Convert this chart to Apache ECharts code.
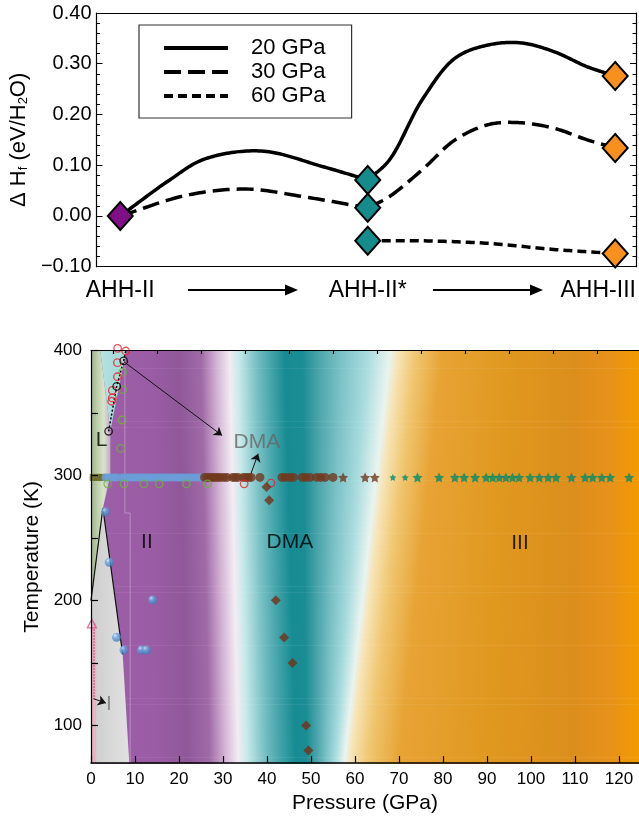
<!DOCTYPE html>
<html><head><meta charset="utf-8">
<script src="https://cdn.jsdelivr.net/npm/echarts@6/dist/echarts.min.js"></script>
<style>html,body{margin:0;padding:0;background:#fff}#c{width:639px;height:819px}</style>
</head><body><div id="c"></div>
<script>
// ---------------- TOP PANEL DATA ----------------
const topStates = ['AHH-II', 'AHH-II*', 'AHH-III'];
const topStatePos = [0, 1, 2];
// each pressure: path AHH-II -> AHH-II* and AHH-II* -> AHH-III
const h20a = [[0,0],[0.2,0.071],[0.34,0.112],[0.57,0.128],[0.82,0.097],[1,0.071]];
const h20b = [[1,0.071],[1.087,0.11],[1.22,0.229],[1.353,0.311],[1.487,0.337],[1.62,0.341],[1.752,0.324],[1.887,0.294],[2,0.276]];
const h30a = [[0,0],[0.27,0.041],[0.51,0.053],[0.74,0.038],[1,0.016]];
const h30b = [[1,0.016],[1.087,0.038],[1.22,0.091],[1.353,0.15],[1.487,0.18],[1.607,0.184],[1.752,0.173],[1.887,0.15],[2,0.134]];
const h60b = [[1,-0.049],[1.22,-0.049],[1.487,-0.054],[1.752,-0.066],[2,-0.074]];
const dAHHII = [[0,0]];
const dAHHIIs = [[1,0.071],[1,0.016],[1,-0.049]];
const dAHHIII = [[2,0.276],[2,0.134],[2,-0.074]];

// ---------------- BOTTOM PANEL DATA ----------------
const pLabelTicks = [0,10,20,30,40,50,60,70,80,90,100,110,120];
const pMinorTicks = [5,15,25,35,45,55,65,75,85,95,105,115];
const tTicks = [100,150,200,250,300,350,400];
const tLabelTicks = [100,200,300,400];
const T_RT = 298.5;                 // row of room-temperature measurements
const olivePs = [0.5,1.2,1.9,2.6];
const bluePs = [3.3,3.9,4.6,5.3,5.9,7.1,7.7,8.3,8.9,9.5,10.1,10.7,11.3,11.9,12.5,13.1,13.7,14.3,14.9,15.5,16.1,16.7,17.3,17.9,18.6,19.3,19.9,20.5,21.2,21.9,22.6,23.3,24.0,24.7,25.3];
const brownPs = [25.8,26.4,27.0,27.6,28.2,28.8,29.4,30.2,30.9,32.2,32.8,33.4,34.6,35.2,35.8,36.4,38.4,43.4,44.2,45.2,46.0,48.0,48.8,49.8,51.3,52.2,53.2,55.0];
const brownStarPs = [57.3,62.3,64.5];
const greenStarPs = [68.6,71.4,74.2,79.1,82.7,84.8,87.3,89.8,91.3,92.8,94.3,95.8,97.3,99.8,101.9,103.9,105.7,109.2,112.3,114.0,116.1,118.0,122.3];
const greenCircles = [[3.8,293.4],[7.5,293.4],[12.0,293.4],[15.5,293.4],[21.7,293.4],[26.5,293.4],[6.75,321.7],[7.05,344.4],[7.2,368.7],[7.2,382.7]];
const redCircles = [[6.05,401.7],[7.9,399.6],[6.0,390.3],[6.0,379.0],[4.85,368.1],[4.85,362.1],[4.7,359.4],[34.8,293.4],[40.9,294.0]];
const blackCircles = [[4.0,335.4],[5.84,371.3],[7.43,391.7]];
const blackDotted = [[4.0,335.4],[5.84,371.3],[7.43,391.7],[7.9,400]];
const blueSpheres = [[3.26,271],[4.16,230.6],[14.0,200.5],[5.8,170.6],[7.5,160.5],[11.5,160.5],[12.6,160.5]];
const brownDiamonds = [[39.9,290.8],[40.5,280.2],[42.0,200.2],[43.9,170.4],[45.8,150.0],[48.9,100.1],[49.4,80.0]];
const pinkTriangle = [[0.2,181.7]];
const pinkDotted = [[0.7,177],[0.7,121]];
const boundaryLeft = [[0,200],[2.7,274]];
const boundaryRight = [[2.7,274],[7.2,157]];
const seamLine = [[7.7,400],[7.7,270],[8.9,270],[8.9,70]];
const arrows = [
  [[7.5,391],[29.8,332]],
  [[36.2,300],[38.0,317.5]],
  [[0.6,121.5],[3.4,118]]
];
const phaseLabels = [
  [2.4,328,'L','#000'],[12.7,247,'II','#000'],[45.2,247,'DMA','#000'],
  [97.5,246,'III','#000'],[37.7,327,'DMA','#666'],[4.1,117.5,'I','#777']
];
// background phase colour field: [pressure at 400 K, pressure at 70 K, colour]
const bgStops = [
  [0,0,'#9c60a8'],[14,15,'#9a5ca4'],[20,22,'#8f5899'],[25,27,'#a06aa7'],
  [28.5,30.5,'#d4b4d6'],[31.5,33.5,'#f3ecf3'],[33.5,35.5,'#c8e9ea'],
  [37.5,39.5,'#78c0c5'],[40.5,42.5,'#4aa7ad'],[44,46.5,'#178b93'],[48,49,'#1a8c94'],
  [52,51.5,'#4ea6ac'],[57,53.5,'#7cc2c7'],[63,55.5,'#aadcdf'],[68,57.5,'#e9f4f0'],[70,59,'#f7e3b5'],
  [74,63,'#f0c670'],[80,70,'#e7a334'],[95,90,'#e0981f'],[110,110,'#dc8e1c'],
  [118,118,'#e7921a'],[124.55,124.55,'#f39a00']
];
const regions = [
  {pts:[[0,400],[2.1,400],[4.4,336],[4.4,300],[2.7,274],[0,200]], colors:['#9cb088','#bfd0ac','#d8e3cc','rgba(235,238,228,0.5)']},
  {pts:[[2.1,400],[8.0,400],[4.4,336]], colors:['#b9e2e0','#a9dbdb','#aedcdc']},
  {pts:[[0,200],[2.7,274],[7.2,157],[8.7,70],[0,70]], colors:['#cdcdcd','#d8d8d8','#e0e0e0']},
  {pts:[[0,182],[1.2,182],[1.2,70],[0,70]], colors:['#e7aebd','#eab6c3']}
];

const P_MAX = 124.55, T_MIN = 70, T_MAX = 400;
const FF = 'Liberation Sans, Arial, Helvetica, sans-serif';

const chart = echarts.init(document.getElementById('c'));
const BX = 2, BY = 2; // bottom axis indices

function grad(colors){
  return new echarts.graphic.LinearGradient(0,0,1,0, colors.map((c,i)=>({offset:i/(colors.length-1), color:c})));
}
// centripetal Catmull-Rom rendering of a curve through pixel points
function splinePoints(P){
  const out=[P[0]]; const n=P.length;
  const ext=(a,b)=>[2*a[0]-b[0],2*a[1]-b[1]];
  const dist=(a,b)=>Math.pow(Math.hypot(a[0]-b[0],a[1]-b[1]),0.5)||1e-6;
  for(let i=0;i<n-1;i++){
    const p0=i>0?P[i-1]:ext(P[0],P[1]), p1=P[i], p2=P[i+1], p3=i+2<n?P[i+2]:ext(P[n-1],P[n-2]);
    const d1=dist(p0,p1), d2=dist(p1,p2), d3=dist(p2,p3);
    const b1=[0,1].map(k=>(d1*d1*p2[k]-d2*d2*p0[k]+(2*d1*d1+3*d1*d2+d2*d2)*p1[k])/(3*d1*(d1+d2)));
    const b2=[0,1].map(k=>(d3*d3*p1[k]-d2*d2*p3[k]+(2*d3*d3+3*d3*d2+d2*d2)*p2[k])/(3*d3*(d3+d2)));
    const m=24;
    for(let j=1;j<=m;j++){
      const t=j/m, u=1-t;
      out.push([0,1].map(k=>u*u*u*p1[k]+3*u*u*t*b1[k]+3*u*t*t*b2[k]+t*t*t*p2[k]));
    }
  }
  return out;
}

const option = {
  animation:false,
  textStyle:{fontFamily:FF},
  grid:[
    {left:91, right:3, top:13, height:253.7},
    {left:91, right:0, top:350.5, height:416.5}
  ],
  legend:{
    data:['20 GPa','30 GPa','60 GPa'], orient:'vertical', left:139, top:25,
    itemWidth:64, itemHeight:14, itemGap:2, padding:[12,26,11,23],
    borderColor:'#333', borderWidth:1.2, selectedMode:false,
    itemStyle:{opacity:0}, lineStyle:{width:4},
    textStyle:{fontSize:22, color:'#000', lineHeight:22, padding:[0,0,0,18], fontFamily:FF}
  },
  xAxis:[
    {gridIndex:0, type:'value', min:-0.096, max:2.084, z:10,
     axisLine:{show:true, onZero:false, lineStyle:{color:'#000', width:1.2}},
     axisTick:{show:false}, splitLine:{show:false},
     axisLabel:{customValues:topStatePos, fontSize:23, color:'#000', margin:12,
       formatter:v=>{const s=topStates[Math.round(v)]; return Math.round(v)===2?'{r|'+s+'}':s;},
       rich:{r:{fontSize:23, color:'#000', padding:[0,34,0,0], fontFamily:FF}}}},
    {gridIndex:0, type:'value', position:'top', min:-0.096, max:2.084, z:10,
     axisLine:{show:true, onZero:false, lineStyle:{color:'#000', width:1.2}},
     axisTick:{show:false}, axisLabel:{show:false}, splitLine:{show:false}},
    {gridIndex:1, type:'value', min:0, max:P_MAX, z:10,
     axisLine:{show:true, onZero:false, lineStyle:{color:'#000', width:1.5}},
     axisTick:{show:true, inside:true, length:7, customValues:pLabelTicks, lineStyle:{color:'#000', width:1.2}},
     axisLabel:{customValues:pLabelTicks, fontSize:17, color:'#000', margin:8},
     splitLine:{show:false},
     name:'Pressure (GPa)', nameLocation:'middle', nameGap:28,
     nameTextStyle:{fontSize:21, color:'#000', fontFamily:FF}},
    {gridIndex:1, type:'value', min:0, max:P_MAX, z:10,
     axisLine:{show:false, onZero:false},
     axisTick:{show:true, inside:true, length:3.5, customValues:pMinorTicks, lineStyle:{color:'#000', width:1.2}},
     axisLabel:{show:false}, splitLine:{show:false}},
    {gridIndex:1, type:'value', position:'top', min:0, max:P_MAX, z:10,
     axisLine:{show:true, onZero:false, lineStyle:{color:'#000', width:1.2}},
     axisTick:{show:false}, axisLabel:{show:false}, splitLine:{show:false}}
  ],
  yAxis:[
    {gridIndex:0, type:'value', min:-0.1, max:0.4, interval:0.1, z:10,
     axisLine:{show:true, onZero:false, lineStyle:{color:'#000', width:1.2}},
     axisTick:{show:true, inside:true, length:6, lineStyle:{color:'#000'}},
     minorTick:{show:true, splitNumber:5, length:3.5, lineStyle:{color:'#000'}},
     splitLine:{show:false}, minorSplitLine:{show:false},
     axisLabel:{fontSize:20, color:'#000', margin:5,
       formatter:v=>(v<-1e-9?'\u2212':'')+Math.abs(v).toFixed(2)},
     name:'\u0394 H{s|f} (eV/H{s|2}O)', nameLocation:'middle', nameGap:49, nameRotate:90,
     nameTextStyle:{fontSize:22, color:'#000', fontFamily:FF,
       rich:{s:{fontSize:13, color:'#000', verticalAlign:'bottom', padding:[8,0,0,0], fontFamily:FF}}}},
    {gridIndex:0, type:'value', position:'right', min:-0.1, max:0.4, interval:0.1, z:10,
     axisLine:{show:true, onZero:false, lineStyle:{color:'#000', width:1.2}},
     axisTick:{show:true, inside:true, length:6, lineStyle:{color:'#000'}},
     minorTick:{show:true, splitNumber:5, length:3.5, lineStyle:{color:'#000'}},
     splitLine:{show:false}, axisLabel:{show:false}},
    {gridIndex:1, type:'value', min:T_MIN, max:T_MAX, z:10,
     axisLine:{show:true, onZero:false, lineStyle:{color:'#000', width:1.2}},
     axisTick:{show:true, inside:true, length:7, customValues:tTicks, lineStyle:{color:'#000', width:1.2}},
     axisLabel:{customValues:tLabelTicks, fontSize:17, color:'#000', margin:9},
     splitLine:{show:false},
     name:'Temperature (K)', nameLocation:'middle', nameGap:46, nameRotate:90,
     nameTextStyle:{fontSize:21, color:'#000', fontFamily:FF}}
  ],
  graphic:[
    {type:'line', shape:{x1:188,y1:290,x2:287,y2:290}, style:{stroke:'#000', lineWidth:2}},
    {type:'polygon', shape:{points:[[285,284.5],[298,290],[285,295.5]]}, style:{fill:'#000'}},
    {type:'line', shape:{x1:433,y1:290,x2:532,y2:290}, style:{stroke:'#000', lineWidth:2}},
    {type:'polygon', shape:{points:[[530,284.5],[543,290],[530,295.5]]}, style:{fill:'#000'}}
  ],
  series:[]
};

const S = option.series;
// ---- top panel: legend entries (line series) + smooth curves (custom series)
const dashOf = {'20 GPa':'solid','30 GPa':[17,7],'60 GPa':[9,5]};
['20 GPa','30 GPa','60 GPa'].forEach(nm=>S.push({name:nm, type:'line', xAxisIndex:0, yAxisIndex:0, data:[], symbol:'none',
  itemStyle:{color:'#000'}, lineStyle:{color:'#000', width:3.5, type:dashOf[nm]}}));
const curveDefs = [['20 GPa',h20a],['20 GPa',h20b],['30 GPa',h30a],['30 GPa',h30b],['60 GPa',h60b]];
curveDefs.forEach(([nm,d])=>S.push({type:'custom', xAxisIndex:0, yAxisIndex:0, data:d, z:2, silent:true, clip:false,
  renderItem:(params, api)=>{
    if(params.dataIndex!==0) return null;
    const pts=splinePoints(d.map(p=>api.coord(p)));
    const t=dashOf[nm];
    return {type:'polyline', shape:{points:pts},
      style:{stroke:'#000', lineWidth:3.5, fill:null, lineDash:t==='solid'?null:t}};
  }}));
[[dAHHII,'#7f0f84'],[dAHHIIs,'#178b8b'],[dAHHIII,'#f7901e']].forEach(([d,c])=>{
  S.push({type:'scatter', xAxisIndex:0, yAxisIndex:0, data:d, symbol:'diamond', symbolSize:[25,28],
    itemStyle:{color:c, borderColor:'#000', borderWidth:2, opacity:1}, z:8, clip:false});
});

// ---- bottom panel background field
S.push({type:'custom', xAxisIndex:BX, yAxisIndex:BY, silent:true, z:0, data:[[0,T_MIN]],
  renderItem:(params, api)=>{
    const children=[]; const n=70;
    const x0=api.coord([0,T_MAX])[0], x1=api.coord([P_MAX,T_MAX])[0];
    for(let i=0;i<n;i++){
      const tA=T_MAX-(T_MAX-T_MIN)*i/n, tB=T_MAX-(T_MAX-T_MIN)*(i+1)/n;
      const f=(T_MAX-(tA+tB)/2)/(T_MAX-T_MIN);
      const yA=api.coord([0,tA])[1], yB=api.coord([0,tB])[1];
      let last=0;
      const stops=bgStops.map(s=>{let o=(s[0]+(s[1]-s[0])*f)/P_MAX; o=Math.min(1,Math.max(last,o)); last=o; return {offset:o,color:s[2]};});
      children.push({type:'rect', shape:{x:x0,y:yA,width:x1-x0,height:yB-yA+0.6},
        style:{fill:new echarts.graphic.LinearGradient(0,0,1,0,stops)}});
    }
    return {type:'group', children};
  }});
// phase regions at low pressure
S.push({type:'custom', xAxisIndex:BX, yAxisIndex:BY, silent:true, z:1, data:regions.map(()=>[0,T_MIN]),
  renderItem:(params, api)=>{
    const r=regions[params.dataIndex];
    return {type:'polygon', shape:{points:r.pts.map(p=>api.coord(p))}, style:{fill:grad(r.colors)}};
  }});
S.push({type:'line', xAxisIndex:BX, yAxisIndex:BY, data:seamLine, symbol:'none', silent:true,
  lineStyle:{color:'rgba(255,255,255,0.3)', width:1}, z:2});
// boundary lines
[boundaryLeft, boundaryRight].forEach(d=>S.push({type:'line', xAxisIndex:BX, yAxisIndex:BY, data:d, symbol:'none',
  lineStyle:{color:'#111', width:1.2}, z:3}));
S.push({type:'line', xAxisIndex:BX, yAxisIndex:BY, data:blackDotted, symbol:'none',
  lineStyle:{color:'#000', width:1.5, type:[2,2]}, z:3});
S.push({type:'line', xAxisIndex:BX, yAxisIndex:BY, data:pinkDotted, symbol:'none',
  lineStyle:{color:'#c8558f', width:1.5, type:[1.5,1.5]}, z:3});
// arrows
S.push({type:'lines', coordinateSystem:'cartesian2d', xAxisIndex:BX, yAxisIndex:BY, z:4,
  data:arrows.map(a=>({coords:a})), symbol:['none','arrow'], symbolSize:8,
  lineStyle:{color:'#111', width:1, opacity:1}});
// room-temperature row
const STAR = 'path://M0,-10L2.94,-4.05L9.51,-3.09L4.76,1.55L5.88,8.09L0,5L-5.88,8.09L-4.76,1.55L-9.51,-3.09L-2.94,-4.05Z';
S.push({type:'scatter', xAxisIndex:BX, yAxisIndex:BY, data:olivePs.map(p=>[p,T_RT]), symbol:'rect', symbolSize:[7,7],
  itemStyle:{color:'#6d6a2a'}, z:5});
S.push({type:'scatter', xAxisIndex:BX, yAxisIndex:BY, data:bluePs.map(p=>[p,T_RT]), symbol:'circle', symbolSize:8,
  itemStyle:{color:'#6a9fd8'}, z:5});
S.push({type:'scatter', xAxisIndex:BX, yAxisIndex:BY, data:brownPs.map(p=>[p,T_RT]), symbol:'circle', symbolSize:9,
  itemStyle:{color:'#70381e'}, z:5});
S.push({type:'scatter', xAxisIndex:BX, yAxisIndex:BY, data:brownStarPs.map(p=>[p,T_RT]), symbol:STAR, symbolSize:10,
  itemStyle:{color:'#70381e'}, z:5});
S.push({type:'scatter', xAxisIndex:BX, yAxisIndex:BY, data:greenStarPs.map((p,i)=>({value:[p,T_RT], symbolSize:i<2?7:10})),
  symbol:STAR, itemStyle:{color:'#06896a'}, z:5});
// open circles
[[greenCircles,'#6db33f'],[redCircles,'#e8202a'],[blackCircles,'#000']].forEach(([d,c])=>{
  S.push({type:'scatter', xAxisIndex:BX, yAxisIndex:BY, data:d, symbol:'circle', symbolSize:7.5, clip:false,
    itemStyle:{color:'rgba(0,0,0,0)', borderColor:c, borderWidth:1.3}, z:6});
});
S.push({type:'scatter', xAxisIndex:BX, yAxisIndex:BY, data:pinkTriangle, symbol:'triangle', symbolSize:9,
  itemStyle:{color:'rgba(0,0,0,0)', borderColor:'#c8558f', borderWidth:1.3}, z:6});
S.push({type:'scatter', xAxisIndex:BX, yAxisIndex:BY, data:blueSpheres, symbol:'circle', symbolSize:9,
  itemStyle:{color:new echarts.graphic.RadialGradient(0.35,0.3,0.75,[{offset:0,color:'#d8e9fa'},{offset:0.35,color:'#6fa6de'},{offset:1,color:'#3d74b3'}])}, z:6});
S.push({type:'scatter', xAxisIndex:BX, yAxisIndex:BY, data:brownDiamonds, symbol:'diamond', symbolSize:10,
  itemStyle:{color:'#6e3319'}, z:6});
// phase labels
S.push({type:'scatter', xAxisIndex:BX, yAxisIndex:BY, symbol:'circle', symbolSize:1, silent:true, z:7,
  itemStyle:{color:'rgba(0,0,0,0)'},
  data:phaseLabels.map(l=>({value:[l[0],l[1]], label:{show:true, position:'inside', formatter:l[2], color:l[3], fontSize:21, fontFamily:FF}}))});

chart.setOption(option);
</script></body></html>
